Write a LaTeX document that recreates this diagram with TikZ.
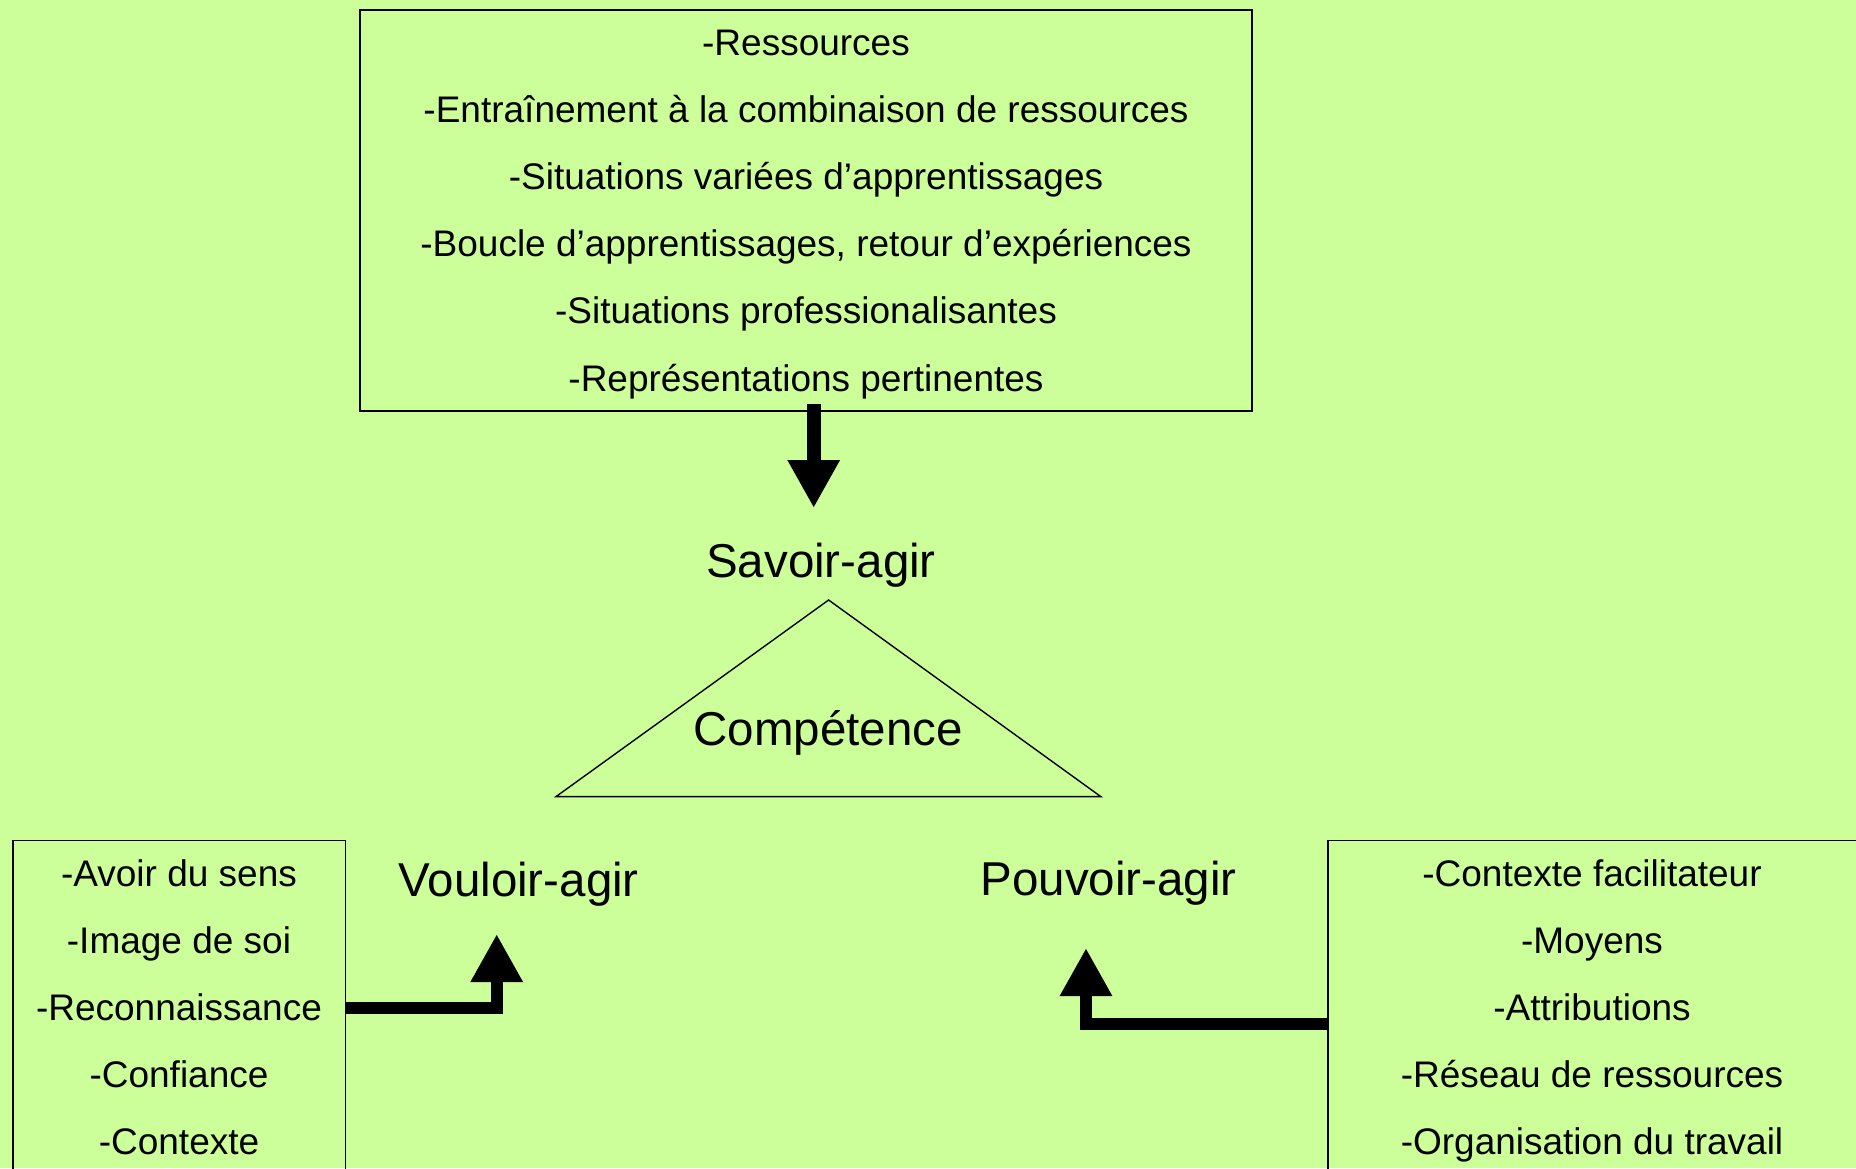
\documentclass[tikz,border=0pt]{standalone}
\usepackage{fontspec}
\setmainfont{Liberation Sans}
\usetikzlibrary{arrows.meta,calc}
\definecolor{fondvert}{HTML}{CCFF99}
\tikzset{
  cadre/.style={draw, line width=0.6pt, inner sep=0pt},
  liste/.style={anchor=base, inner sep=0pt, font=\fontsize{18.5pt}{22pt}\selectfont},
  titre/.style={anchor=base, font=\fontsize{23.75pt}{28pt}\selectfont},
  fleche/.style={line width=6pt, -{Triangle[width=24.5pt,length=24pt]}}
}
\begin{document}
\begin{tikzpicture}[x=0.5pt,y=-0.5pt]
        \useasboundingbox (0,0) rectangle (1856,1168);
        \fill[fondvert] (0,0) rectangle (1856,1168);
        % cadres
        \node[cadre, minimum width=446pt, minimum height=200.5pt] (ressources) at (806,210.5) {};
        \node[cadre, minimum width=166.3pt, minimum height=200pt] (vouloirbox) at (179.3,1040.5) {};
        \node[cadre, minimum width=286pt, minimum height=200pt] (pouvoirbox) at (1614,1040.5) {};
        % texte du haut
        \node[liste] (r1) at (806,55.5) {-Ressources};
        \node[liste] (r2) at (806,122.6) {-Entraînement à la combinaison de ressources};
        \node[liste] (r3) at (806,189.7) {-Situations variées d’apprentissages};
        \node[liste] (r4) at (806,256.8) {-Boucle d’apprentissages, retour d’expériences};
        \node[liste] (r5) at (806,323.9) {-Situations professionalisantes};
        \node[liste] (r6) at (806,391) {-Représentations pertinentes};
        % texte de gauche
        \node[liste] (v1) at (179,886.5) {-Avoir du sens};
        \node[liste] (v2) at (179,953.6) {-Image de soi};
        \node[liste] (v3) at (179,1020.7) {-Reconnaissance};
        \node[liste] (v4) at (179,1087.8) {-Confiance};
        \node[liste] (v5) at (179,1154.9) {-Contexte};
        % texte de droite
        \node[liste] (p1) at (1592,886.5) {-Contexte facilitateur};
        \node[liste] (p2) at (1592,953.6) {-Moyens};
        \node[liste] (p3) at (1592,1020.7) {-Attributions};
        \node[liste] (p4) at (1592,1087.8) {-Réseau de ressources};
        \node[liste] (p5) at (1592,1154.9) {-Organisation du travail};
        % triangle
        \draw[line width=0.7pt] (828.6,600) -- (1100.8,796.6) -- (556,796.6) -- cycle;
        \node[titre] (savoir) at (821,577) {Savoir-agir};
        \node[titre] (competence) at (828,745) {Compétence};
        \node[titre] (vouloir) at (518.7,896) {Vouloir-agir};
        \node[titre] (pouvoir) at (1108.6,895) {Pouvoir-agir};
        % fleches
        \coordinate (spointe) at (813.7,508);
        \coordinate (vcoude) at (496.7,1008);
        \coordinate (vpointe) at (496.7,934);
        \coordinate (pcoude) at (1086,1024);
        \coordinate (ppointe) at (1086,948);
        \draw[fleche, line width=7pt] ($(ressources.south -| spointe)+(0,-8)$) -- (spointe);
        \draw[fleche] (vouloirbox.east |- vcoude) -- (vcoude) -- (vpointe);
        \draw[fleche] (pouvoirbox.west |- pcoude) -- (pcoude) -- (ppointe);
     \end{tikzpicture}
\end{document}
